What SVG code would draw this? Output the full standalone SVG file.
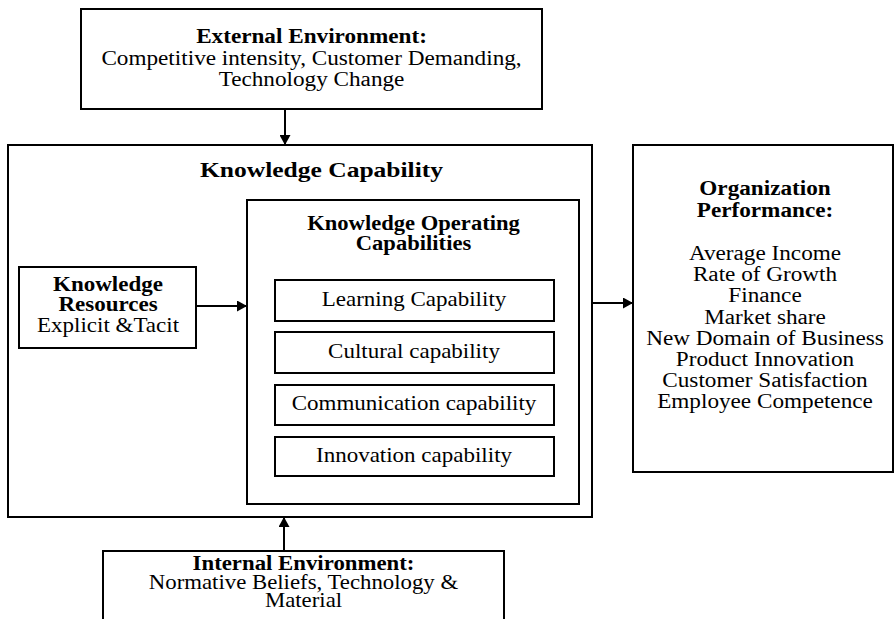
<svg xmlns="http://www.w3.org/2000/svg" width="894" height="619" viewBox="0 0 894 619">
<style>
.box{fill:#fff;stroke:#000;stroke-width:2}
.t{font-family:"Liberation Serif","Times New Roman",serif;font-size:20px;fill:#000;text-anchor:middle}
.b{font-weight:bold}
.ln{stroke:#000;stroke-width:2;fill:none}
</style>
<defs>
<marker id="ah" viewBox="0 0 10 10" refX="10" refY="5" markerWidth="10" markerHeight="11" markerUnits="userSpaceOnUse" orient="auto" preserveAspectRatio="none">
<path d="M0,0 L10,5 L0,10 z" fill="#000"/>
</marker>
</defs>
<rect width="894" height="619" fill="#fff"/>
<g id="external">
<rect class="box" x="81" y="9" width="461" height="100"/>
<g transform="translate(311.5 0) scale(1.16 1)">
<text class="t b" x="0" y="43">External Environment:</text>
<text class="t" x="0" y="65">Competitive intensity, Customer Demanding,</text>
<text class="t" x="0" y="86">Technology Change</text>
</g>
</g>
<g id="knowledge-capability">
<rect class="box" x="8" y="145" width="584" height="372"/>
<g transform="translate(321.5 0) scale(1.16 1)">
<text class="t b" x="0" y="177" style="font-size:22px">Knowledge Capability</text>
</g>
</g>
<g id="knowledge-resources">
<rect class="box" x="19" y="267" width="177" height="81"/>
<g transform="translate(108 0) scale(1.15 1)">
<text class="t b" x="0" y="291">Knowledge</text>
<text class="t b" x="0" y="311">Resources</text>
<text class="t" x="0" y="332">Explicit &amp;Tacit</text>
</g>
</g>
<g id="knowledge-operating">
<rect class="box" x="247" y="200" width="332" height="304"/>
<g transform="translate(413.5 0) scale(1.13 1)">
<text class="t b" x="0" y="230">Knowledge Operating</text>
<text class="t b" x="0" y="250">Capabilities</text>
</g>
</g>
<g id="learning">
<rect class="box" x="275" y="280" width="279" height="41"/>
<g transform="translate(414 0) scale(1.15 1)"><text class="t" x="0" y="306">Learning Capability</text></g>
</g>
<g id="cultural">
<rect class="box" x="275" y="332" width="279" height="41"/>
<g transform="translate(414 0) scale(1.15 1)"><text class="t" x="0" y="358">Cultural capability</text></g>
</g>
<g id="communication">
<rect class="box" x="275" y="385" width="279" height="40"/>
<g transform="translate(414 0) scale(1.15 1)"><text class="t" x="0" y="410">Communication capability</text></g>
</g>
<g id="innovation">
<rect class="box" x="275" y="437" width="279" height="39"/>
<g transform="translate(414 0) scale(1.15 1)"><text class="t" x="0" y="462">Innovation capability</text></g>
</g>
<g id="organization-performance">
<rect class="box" x="633" y="145" width="260" height="327"/>
<g transform="translate(765 0) scale(1.16 1)">
<text class="t b" x="0" y="195">Organization</text>
<text class="t b" x="0" y="217">Performance:</text>
<text class="t" x="0" y="260">Average Income</text>
<text class="t" x="0" y="281">Rate of Growth</text>
<text class="t" x="0" y="302">Finance</text>
<text class="t" x="0" y="324">Market share</text>
<text class="t" x="0" y="345">New Domain of Business</text>
<text class="t" x="0" y="366">Product Innovation</text>
<text class="t" x="0" y="387">Customer Satisfaction</text>
<text class="t" x="0" y="408">Employee Competence</text>
</g>
</g>
<g id="internal">
<rect class="box" x="103" y="551" width="401" height="80"/>
<g transform="translate(303.5 0) scale(1.14 1)">
<text class="t b" x="0" y="570">Internal Environment:</text>
<text class="t" x="0" y="589">Normative Beliefs, Technology &amp;</text>
<text class="t" x="0" y="607">Material</text>
</g>
</g>
<g id="connectors">
<line class="ln" x1="285" y1="109" x2="285" y2="145" marker-end="url(#ah)"/>
<line class="ln" x1="196" y1="306" x2="247" y2="306" marker-end="url(#ah)"/>
<line class="ln" x1="592" y1="303" x2="633" y2="303" marker-end="url(#ah)"/>
<line class="ln" x1="284" y1="551" x2="284" y2="517" marker-end="url(#ah)"/>
</g>
</svg>
